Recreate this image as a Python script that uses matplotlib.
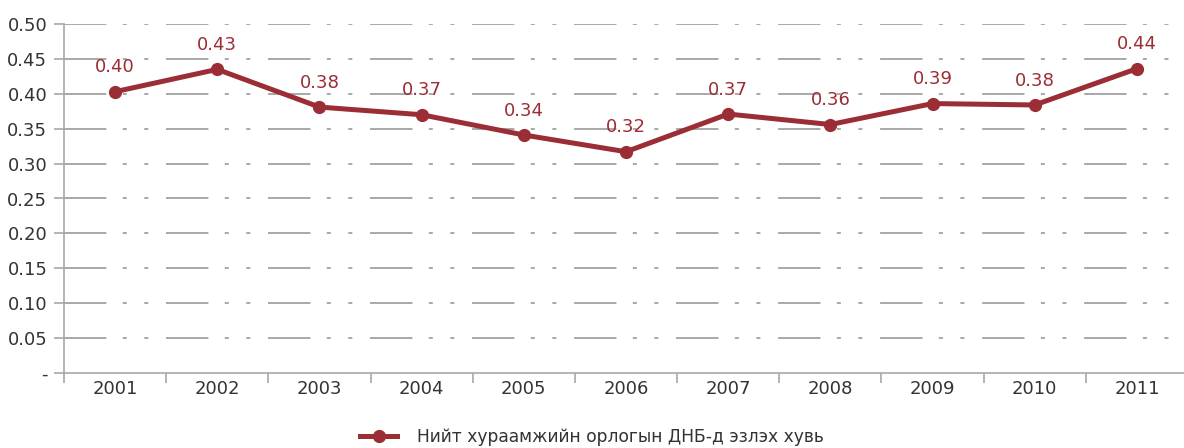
import numpy as np
import matplotlib.pyplot as plt
from matplotlib.ticker import FixedLocator

# datos
anios = ['2001', '2002', '2003', '2004', '2005', '2006', '2007', '2008', '2009', '2010', '2011']
valores = [0.403, 0.435, 0.381, 0.370, 0.341, 0.317, 0.371, 0.356, 0.386, 0.384, 0.436]
etiquetas = ['0.40', '0.43', '0.38', '0.37', '0.34', '0.32', '0.37', '0.36', '0.39', '0.38', '0.44']
y_ticks = [0, 0.05, 0.10, 0.15, 0.20, 0.25, 0.30, 0.35, 0.40, 0.45, 0.50]
y_ticklabels = ['-', '0.05', '0.10', '0.15', '0.20', '0.25', '0.30', '0.35', '0.40', '0.45', '0.50']
serie = 'Нийт хураамжийн орлогын ДНБ-д эзлэх хувь'

rojo = '#9B2D35'
gris = '#A8A8A8'
texto = '#333333'

plt.rcParams['font.family'] = ['DejaVu Sans']
plt.rcParams['lines.scale_dashes'] = False

fig = plt.figure(figsize=(11.84, 4.48), dpi=100)
ax = fig.add_axes([64/1184, 75/448, 1124/1184, 349/448])

x = np.arange(len(anios))

# lineas de grilla con patron largo-corto-corto
for yv in y_ticks[1:]:
    ax.plot([-0.5, len(anios) - 0.5], [yv, yv], color=gris, lw=1.4,
            dashes=(30.5, 11.8, 2.9, 12.6, 2.9, 12.75), zorder=1,
            solid_capstyle='butt', dash_capstyle='butt')

ax.plot(x, valores, color=rojo, lw=3.6, marker='o', markersize=8.5,
        label=serie, zorder=3)

for xi, v, t in zip(x, valores, etiquetas):
    ax.annotate(t, (xi, v), xytext=(0, 11), textcoords='offset points',
                ha='center', va='bottom', color=rojo, fontsize=13)

ax.set_xlim(-0.5, len(anios) - 0.5)
ax.set_ylim(0, 0.5)
ax.set_yticks(y_ticks)
ax.set_yticklabels(y_ticklabels)
ax.set_xticks(x)
ax.set_xticklabels(anios)
ax.xaxis.set_minor_locator(FixedLocator(np.arange(-0.5, len(anios), 1.0)))
ax.tick_params(axis='x', which='major', length=0, pad=5, labelsize=13, labelcolor=texto)
ax.tick_params(axis='x', which='minor', length=7, color=gris, width=1.2, direction='out')
ax.tick_params(axis='y', length=7, color=gris, width=1.2, pad=5, labelsize=13, labelcolor=texto)

for s in ['top', 'right']:
    ax.spines[s].set_visible(False)
for s in ['left', 'bottom']:
    ax.spines[s].set_color(gris)
    ax.spines[s].set_linewidth(1.2)

leg = fig.legend(loc='center', bbox_to_anchor=(0.5, 1 - 437/448), frameon=False,
                 fontsize=12.3, handlelength=2.2, handletextpad=1.17)
for t in leg.get_texts():
    t.set_color(texto)

fig.savefig('out.png', dpi=100)
